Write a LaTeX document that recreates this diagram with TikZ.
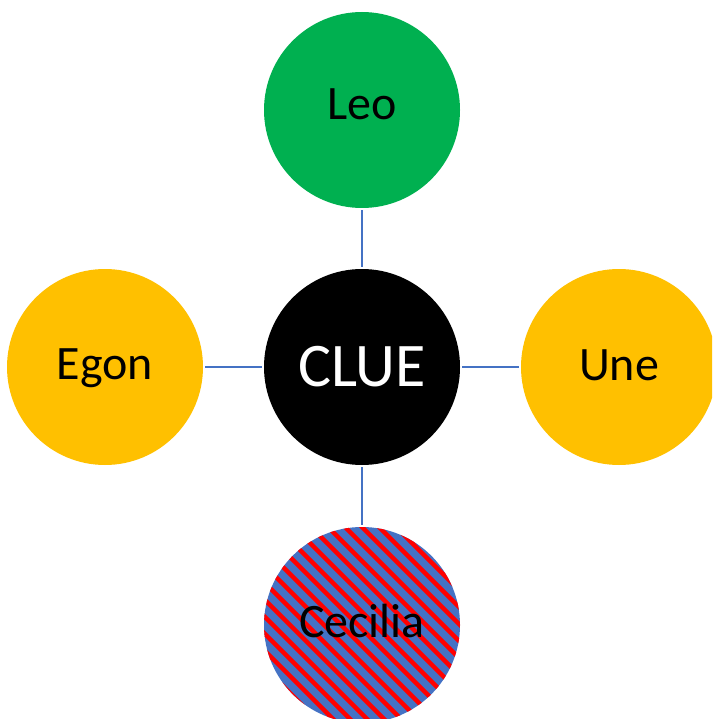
\documentclass[tikz,border=0pt]{standalone}
\usepackage{fontspec}
\setmainfont{Carlito}
\definecolor{leogreen}{HTML}{00B050}
\definecolor{amber}{HTML}{FFC000}
\definecolor{linkblue}{HTML}{4472C4}
\definecolor{stripered}{HTML}{FF0000}
\begin{document}
\begin{tikzpicture}[x=1pt,y=-1pt,
  person/.style={circle,minimum size=196pt,inner sep=0pt,text depth=0pt,text height=24pt,font=\fontsize{48}{54}\selectfont},
  hub/.style={person,fill=black,text=white,text height=38pt,font=\fontsize{62}{70}\selectfont},
  link/.style={draw=linkblue,line width=2.2pt,shorten <=2pt,shorten >=2pt}]
\clip (0,0) rectangle (712,719);
\useasboundingbox (0,0) rectangle (712,719);
\node[hub] (clue) at (362,367) {CLUE};
\node[person,fill=leogreen,text height=20pt] (leo) at (362,110) {Leo};
\node[person,fill=amber] (egon) at (105,367) {Egon};
\node[person,fill=amber,text height=27pt] (une) at (619,367) {Une};
\node[person,fill=linkblue] (ceciliabg) at (362,625) {};
\begin{scope}
  \clip (362,625) circle (98pt);
  \foreach \c in {-420,-403,...,-90}
    \draw[stripered,line width=4.5pt] (\c+480,480) -- (\c+780,780);
\end{scope}
\node[person] (cecilia) at (362,625) {Cecilia};
\draw[link] (clue) -- (leo);
\draw[link] (clue) -- (egon);
\draw[link] (clue) -- (une);
\draw[link] (clue) -- (ceciliabg);
\end{tikzpicture}
\end{document}
